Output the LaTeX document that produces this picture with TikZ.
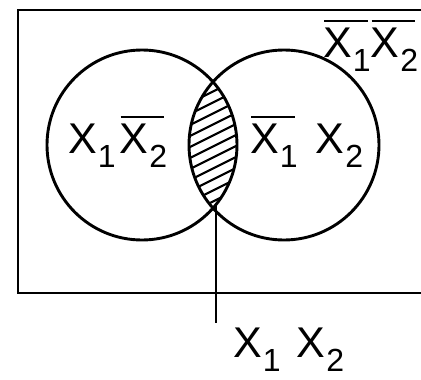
\documentclass[tikz,border=0pt]{standalone}
\usepackage{fontspec}
\setmainfont{Liberation Sans}
\newsavebox\xbox
\newcommand\Xs[1]{X\kern1pt\lower14pt\hbox{\fontsize{32}{36}\selectfont #1}}
\newcommand\Xb[1]{\sbox\xbox{\Xs{#1}}\vbox{\offinterlineskip\hbox{\kern1pt\vrule height2.5pt depth0pt width\dimexpr\wd\xbox-4pt\relax}\kern5pt\copy\xbox}}
\begin{document}
\begin{tikzpicture}[x=1pt,y=-1pt,
  frame/.style={line width=2.8pt},
  setcirc/.style={circle,draw,line width=2.9pt,minimum size=190pt,inner sep=0pt},
  hatch/.style={line width=2.2pt},
  lab/.style={anchor=base west,inner sep=0pt,font=\fontsize{43}{50}\selectfont}]
\useasboundingbox (0,0) rectangle (421,380);
\clip (0,0) rectangle (421,380);
% universe frame (open on the right, cut by the picture edge)
\coordinate (fr) at (430,10);
\coordinate (ftl) at (18,10);
\coordinate (fbl) at (18,293);
\coordinate (fbr) at (430,293);
\draw[frame] (fr) -- (ftl) -- (fbl) -- (fbr);
% sets
\node[setcirc] (A) at (142,145) {};
\node[setcirc] (B) at (284,145) {};
% hatched intersection
\begin{scope}
  \clip (142,145) circle (95);
  \clip (284,145) circle (95);
  \foreach \k in {0,...,22}
    \draw[hatch] (150,90+\k*11) -- ++(130,-65);
\end{scope}
% labels
\node[lab] (l1) at (68,153) {\Xs{1}\kern4pt\Xb{2}};
\node[lab] (l2) at (250,153) {\Xb{1}\kern18pt\Xs{2}};
\node[lab] (l3) at (323,57) {\Xb{1}\Xb{2}};
\node[lab] (l4) at (233,357) {\Xs{1}\kern16pt\Xs{2}};
% pointer from intersection
\coordinate (ib) at (216,206);
\coordinate (pe) at (216,323);
\draw[line width=2.4pt] (ib) -- (pe);
\end{tikzpicture}
\end{document}
